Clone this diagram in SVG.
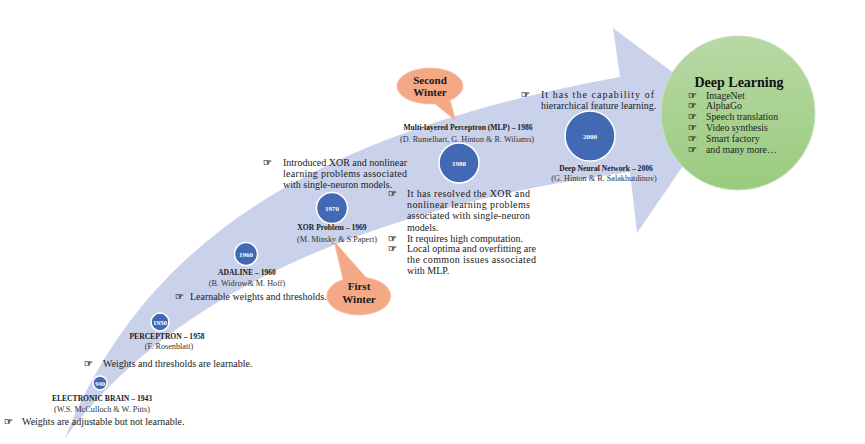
<svg xmlns="http://www.w3.org/2000/svg" width="865" height="444" viewBox="0 0 865 444">
<defs>
<linearGradient id="gGreen" x1="0" y1="0" x2="0" y2="1">
<stop offset="0" stop-color="#b8d9a5"/>
<stop offset="1" stop-color="#9acb7e"/>
</linearGradient>
<style>
.arrow{fill:#cad1eb;}
.yr{fill:#4169b4;stroke:#ffffff;stroke-width:1.5;}
.yt{font-family:"Liberation Serif","Times New Roman",serif;font-weight:bold;font-size:7px;fill:#ffffff;text-anchor:middle;}
.ttl{font-family:"Liberation Serif","Times New Roman",serif;font-weight:bold;font-size:7.6px;fill:#1a1a1a;text-anchor:middle;}
.sub{font-family:"Liberation Serif","Times New Roman",serif;font-size:8.2px;fill:#333333;text-anchor:middle;}
.bt{font-family:"Liberation Serif","Times New Roman",serif;font-size:10px;fill:#222222;}
.bl{font-family:"DejaVu Sans",sans-serif;font-size:10px;fill:#333333;stroke:#333333;stroke-width:0.3;}
.call{fill:#f4a886;stroke:#f7c2a9;stroke-width:0.8;}
.ct{font-family:"Liberation Serif","Times New Roman",serif;font-weight:bold;font-size:11px;fill:#1a1a1a;text-anchor:middle;}
.dl{font-family:"Liberation Serif","Times New Roman",serif;font-weight:bold;font-size:14px;fill:#111111;text-anchor:middle;}
.li{font-family:"Liberation Serif","Times New Roman",serif;font-size:9.8px;fill:#222222;}
</style>
</defs>
<rect width="865" height="444" fill="#ffffff"/>
<g id="connectors">
<path class="arrow" d="M65,438 C140,250 300,135 620,77 L613,28 L722,109 L637,233 L630,172 C420,200 190,270 65,438 Z"/>
</g>
<g id="deep-learning">
<circle cx="738" cy="113" r="77" fill="url(#gGreen)" stroke="#c9e2b9" stroke-width="1"/>
<text class="dl" x="739" y="87">Deep Learning</text>
<text class="bl" x="688" y="98.5">☞</text><text class="li" x="706" y="98.5">ImageNet</text>
<text class="bl" x="688" y="109.4">☞</text><text class="li" x="706" y="109.4">AlphaGo</text>
<text class="bl" x="688" y="120.3">☞</text><text class="li" x="706" y="120.3">Speech translation</text>
<text class="bl" x="688" y="131.2">☞</text><text class="li" x="706" y="131.2">Video synthesis</text>
<text class="bl" x="688" y="142.1">☞</text><text class="li" x="706" y="142.1">Smart factory</text>
<text class="bl" x="688" y="153">☞</text><text class="li" x="706" y="153">and many more…</text>
</g>
<g id="node-1943">
<circle class="yr" cx="100" cy="383" r="7"/>
<text class="yt" x="100" y="385.5" style="font-size:6.5px">940</text>
<text class="ttl" x="102" y="401">ELECTRONIC BRAIN – 1943</text>
<text class="sub" x="102" y="412">(W.S. McCulloch &amp; W. Pitts)</text>
<text class="bl" x="4" y="424.5">☞</text>
<text class="bt" x="22" y="424.5">Weights are adjustable but not learnable.</text>
</g>
<g id="node-1958">
<circle class="yr" cx="160" cy="322" r="9"/>
<text class="yt" x="160" y="324.5">1950</text>
<text class="ttl" x="167" y="339">PERCEPTRON – 1958</text>
<text class="sub" x="169" y="349">(F. Rosenblatt)</text>
<text class="bl" x="84" y="366.5">☞</text>
<text class="bt" x="103" y="366.5">Weights and thresholds are learnable.</text>
</g>
<g id="node-1960">
<circle class="yr" cx="246" cy="254" r="11.5"/>
<text class="yt" x="246" y="256.5">1960</text>
<text class="ttl" x="247" y="275">ADALINE – 1960</text>
<text class="sub" x="247" y="286">(B. Widrow&amp; M. Hoff)</text>
<text class="bl" x="175" y="299.5">☞</text>
<text class="bt" x="190" y="299.5">Learnable weights and thresholds.</text>
</g>
<g id="node-1969">
<circle class="yr" cx="332" cy="208" r="15.5"/>
<text class="yt" x="332" y="210.5">1970</text>
<text class="ttl" x="332" y="230">XOR Problem – 1969</text>
<text class="sub" x="337" y="242">(M. Minsky &amp; S.Papert)</text>
<text class="bl" x="263" y="166">☞</text>
<text class="bt" x="283" y="166" textLength="124" lengthAdjust="spacing">Introduced XOR and nonlinear</text>
<text class="bt" x="283" y="177" textLength="124" lengthAdjust="spacing">learning problems associated</text>
<text class="bt" x="283" y="187.5">with single-neuron models.</text>
</g>
<g id="node-1986">
<circle class="yr" cx="459" cy="163" r="20"/>
<text class="yt" x="459" y="165.5">1980</text>
<text class="ttl" x="468" y="130">Multi-layered Perceptron (MLP) – 1986</text>
<text class="sub" x="467" y="142">(D. Rumelhart, G. Hinton &amp; R. Wiliams)</text>
<text class="bl" x="388" y="197">☞</text>
<text class="bt" x="407" y="197" textLength="123" lengthAdjust="spacing">It has resolved the XOR and</text>
<text class="bt" x="407" y="208" textLength="123" lengthAdjust="spacing">nonlinear learning problems</text>
<text class="bt" x="407" y="219" textLength="123" lengthAdjust="spacing">associated with single-neuron</text>
<text class="bt" x="407" y="231">models.</text>
<text class="bl" x="388" y="242">☞</text>
<text class="bt" x="407" y="242">It requires high computation.</text>
<text class="bl" x="388" y="252">☞</text>
<text class="bt" x="407" y="252" textLength="129" lengthAdjust="spacing">Local optima and overfitting are</text>
<text class="bt" x="407" y="263" textLength="129" lengthAdjust="spacing">the common issues associated</text>
<text class="bt" x="407" y="274">with MLP.</text>
</g>
<g id="node-2006">
<circle class="yr" cx="590" cy="136" r="25"/>
<text class="yt" x="590" y="138.5">2000</text>
<text class="ttl" x="606" y="171">Deep Neural Network – 2006</text>
<text class="sub" x="604" y="181">(G. Hinton &amp; R. Salakhutdinov)</text>
<text class="bl" x="521" y="98">☞</text>
<text class="bt" x="541" y="98" textLength="113" lengthAdjust="spacing">It has the capability of</text>
<text class="bt" x="541" y="109">hierarchical feature learning.</text>
</g>
<g id="first-winter">
<path class="call" d="M343,279.5 L334,241 L366,277.5 A32 19 0 1 1 343,279.5 Z"/>
<text class="ct" x="359" y="290">First</text>
<text class="ct" x="359" y="303">Winter</text>
</g>
<g id="second-winter">
<path class="call" d="M450,100.3 L456,121 L435,103.8 A33 18 0 1 1 450,100.3 Z"/>
<text class="ct" x="430" y="84">Second</text>
<text class="ct" x="430" y="96">Winter</text>
</g>
</svg>
